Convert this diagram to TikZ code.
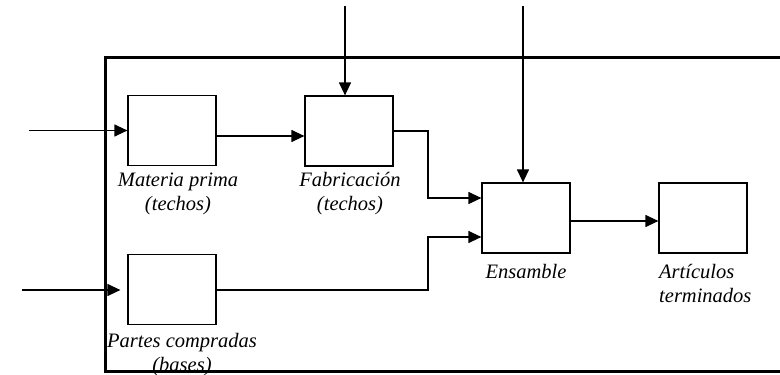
\documentclass[tikz,border=0pt]{standalone}
\usepackage{fontspec}
\setmainfont{Liberation Serif}
\usetikzlibrary{arrows.meta}
\begin{document}
\begin{tikzpicture}[x=1pt,y=-1pt,
  stage/.style={draw, line width=1.2pt, minimum width=88pt, minimum height=70pt, inner sep=0pt},
  lbl/.style={font=\itshape\fontsize{20.5}{23.5}\selectfont, inner sep=0pt, anchor=base},
  flow/.style={line width=1.2pt, -{Triangle[length=13pt,width=12pt]}}]
\useasboundingbox (0,0) rectangle (780,375);
% stages
\node[stage] (mp)  at (172,130.5) {};
\node[stage] (fab) at (349,131) {};
\node[stage] (ens) at (526,218) {};
\node[stage] (art) at (703,218) {};
\node[stage] (pc)  at (172,289.5) {};
% labels (anchored on the baseline of their last line)
\node[lbl, align=center] (lmp)  at (178,210) {Materia prima\\(techos)};
\node[lbl, align=center] (lfab) at (350,210) {Fabricación\\(techos)};
\node[lbl, align=center] (lpc)  at (182,371) {Partes compradas\\(bases)};
\node[lbl] (lens) at (526,278) {Ensamble};
\node[lbl, align=left, anchor=base west] (lart) at (659,302) {Artículos\\terminados};
% free ends and junctions
\coordinate (in1) at (29,130.5);
\coordinate (in2) at (22,290);
\coordinate (t1) at (345,6);
\coordinate (t2) at (523,6);
\coordinate (j1) at (428,198);
\coordinate (j2) at (428,237);
% connectors
\draw[flow] (in1) -- (mp.west);
\draw[flow, shorten >=7pt] (in2) -- (pc.west |- in2);
\draw[flow] ([yshift=-5.5pt]mp.east) -- ([yshift=-5pt]fab.west);
\draw[flow] (t1) -- (t1 |- fab.north);
\draw[flow] (t2) -- (t2 |- ens.north);
\draw[flow] (fab.east) -| (j1) -- (ens.west |- j1);
\draw[flow] (pc.east |- in2) -| (j2) -- (ens.west |- j2);
\draw[flow] ([yshift=-3pt]ens.east) -- ([yshift=-3pt]art.west);
% plant boundary, drawn over everything
\draw[line width=3pt] (800,57) -- (105,57) -- (105,371) -- (800,371);
\end{tikzpicture}
\end{document}
